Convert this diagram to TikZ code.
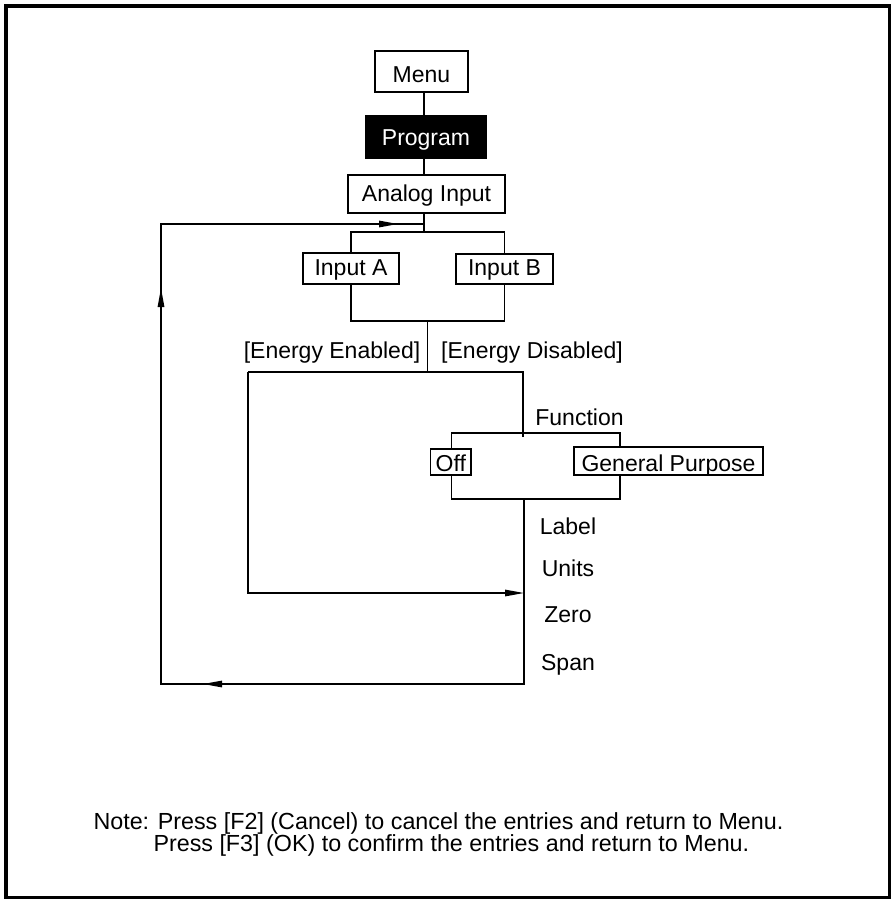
\documentclass[tikz,border=0pt]{standalone}
\usepackage{fontspec}
\setmainfont{Liberation Sans}
\usetikzlibrary{arrows.meta}
\begin{document}
\begin{tikzpicture}[x=1pt,y=-1pt,
  every node/.style={font=\fontsize{23}{26}\selectfont, inner sep=0pt},
  ln/.style={line width=1.3pt},
  box/.style={draw, line width=1.3pt, rectangle, text depth=0pt},
  lbl/.style={anchor=base},
  note/.style={anchor=base west, font=\fontsize{23.3}{26}\selectfont},
  arr/.style={-{Triangle[length=19pt,width=6.5pt]}}]
\useasboundingbox (0,0) rectangle (891,899);
\draw[line width=3.5pt] (6,6) rectangle (889.5,897.5);

% boxes
\node[box, minimum width=93pt, minimum height=41pt, text height=21.6pt] (menu) at (421.5,71.5) {Menu};
\node[box, fill=black, text=white, minimum width=120pt, minimum height=42pt, text height=16pt] (prog) at (426,137) {Program};
\node[box, minimum width=157pt, minimum height=38pt, text height=15.4pt] (ai) at (426.5,194) {Analog Input};
\node[box, minimum width=96pt, minimum height=31pt, text height=14.4pt] (ina) at (351,268.5) {Input A};
\node[box, minimum width=97pt, minimum height=30pt, text height=13.4pt] (inb) at (504.5,269) {Input B};
\node[box, minimum width=40.5pt, minimum height=26pt, text height=19.4pt] (off) at (450.8,462) {Off};
\node[box, minimum width=189pt, minimum height=28pt, text height=21.4pt] (gp) at (668.5,461) {General Purpose};

% labels
\node[lbl] (ee) at (332,358) {[Energy Enabled]};
\node[lbl] (ed) at (532,358) {[Energy Disabled]};
\node[lbl] (fn) at (579.5,425) {Function};
\node[lbl] (lab) at (568,534) {Label};
\node[lbl] (uni) at (568,576) {Units};
\node[lbl] (zer) at (568,622.7) {Zero};
\node[lbl] (spn) at (568,670.7) {Span};
\node[note] (n1) at (93.3,829.3) {Note: Press [F2] (Cancel) to cancel the entries and return to Menu.};
\node[note] (n2) at (153.3,851.6) {Press [F3] (OK) to confirm the entries and return to Menu.};

% junction coordinates
\coordinate (top) at (424,224);
\coordinate (br) at (424,232);
\coordinate (jn) at (427.5,321);
\coordinate (sp) at (427.5,372);
\coordinate (eL) at (248,372);
\coordinate (eR) at (523,372);
\coordinate (fT) at (523,437);
\coordinate (fL) at (451.5,433);
\coordinate (fR) at (620,433);
\coordinate (gL) at (451.5,499);
\coordinate (gR) at (620,499);
\coordinate (gM) at (524,499);
\coordinate (uT) at (524,593);
\coordinate (sB) at (524,684);
\coordinate (lB) at (161,684);
\coordinate (lT) at (161,224);
\coordinate (a1) at (203,684);
\coordinate (a2) at (161,288);
\coordinate (a3) at (398,224);

% connectors
\draw[ln] (menu.south -| top) -- (prog.north -| top);
\draw[ln] (prog.south -| top) -- (ai.north -| top);
\draw[ln] (ai.south -| top) -- (br);
\draw[ln] (ina.north) |- (br) -| (inb.north);
\draw[ln] (ina.south) |- (jn) -| (inb.south);
\draw[ln] (jn) -- (sp);
\draw[ln] (eL) -- (eR) -- (fT);
\draw[ln] (off.north -| fL) -- (fL) -- (fR) -- (gp.north -| fR);
\draw[ln] (off.south -| gL) -- (gL) -- (gR) -- (gp.south -| gR);
\draw[ln,arr] (eL) |- (uT);
\draw[ln] (gM) -- (sB) -- (lB) -- (lT) -- (top);
\draw[ln,arr] (sB) -- (a1);
\draw[ln,arr] (lB) -- (a2);
\draw[ln,arr] (lT) -- (a3);
\end{tikzpicture}
\end{document}
